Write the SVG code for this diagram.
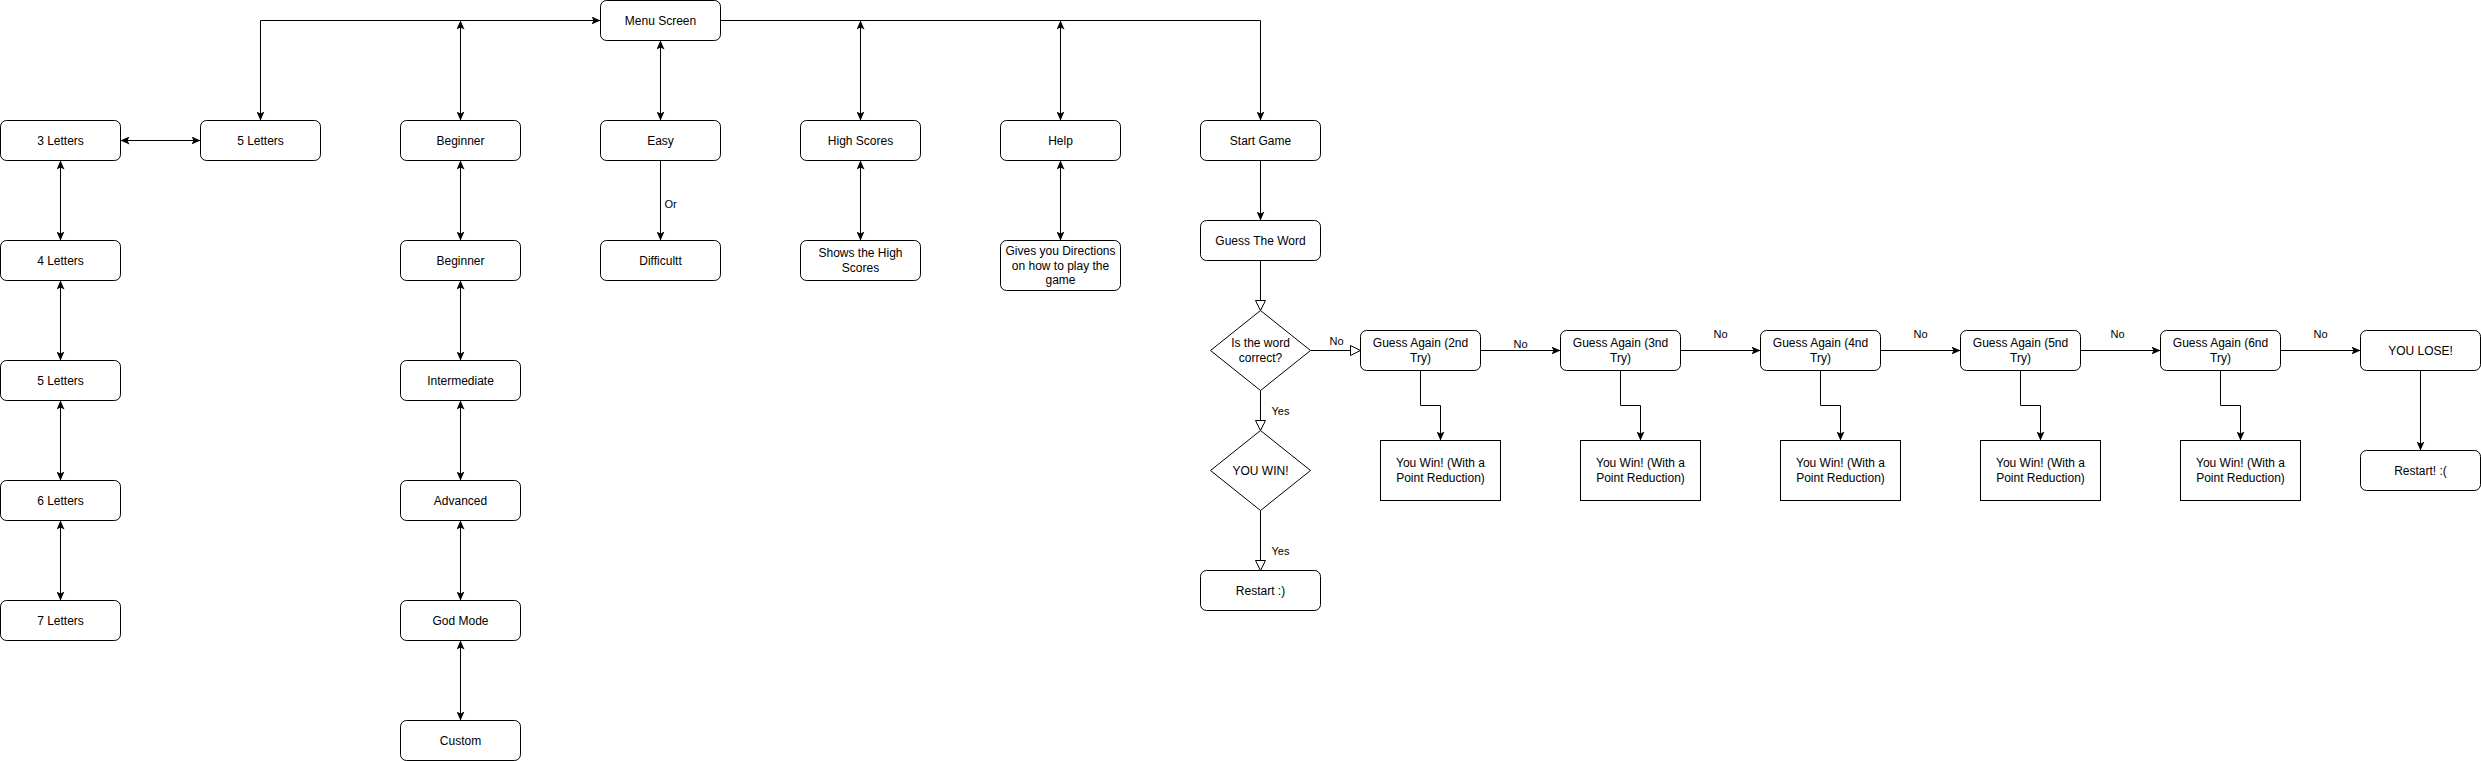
<svg xmlns="http://www.w3.org/2000/svg" width="2481" height="761" viewBox="0 0 2481 761">
<style>
.n{fill:#fff;stroke:#000;stroke-width:1}
.t{font-family:"Liberation Sans",Arial,sans-serif;font-size:12px;fill:#000;text-anchor:middle;dominant-baseline:central}
.l{font-family:"Liberation Sans",Arial,sans-serif;font-size:11px;fill:#000;text-anchor:middle;dominant-baseline:central}
.e{fill:none;stroke:#000;stroke-width:1}
.ee{marker-end:url(#a)}
.bb{marker-start:url(#a);marker-end:url(#a)}
.hh{marker-end:url(#h)}
</style>
<defs>
<marker id="a" viewBox="0 0 9 8" refX="9" refY="4" markerWidth="9" markerHeight="8" markerUnits="userSpaceOnUse" orient="auto-start-reverse"><path d="M0,0 L9,4 L0,8 L2,4 z" fill="#000"/></marker>
<marker id="h" viewBox="0 0 11 11" refX="10.5" refY="5.5" markerWidth="11" markerHeight="11" markerUnits="userSpaceOnUse" orient="auto"><path d="M0.5,0.5 L10.5,5.5 L0.5,10.5 z" fill="#fff" stroke="#000" stroke-width="1"/></marker>
</defs>
<rect width="2481" height="761" fill="#fff"/>
<g transform="translate(0.5,0.5)">
<g id="connectors">
<path class="e bb" d="M260,120 V20 H600"/>
<path class="e bb" d="M460,20 V120"/>
<path class="e bb" d="M660,40 V120"/>
<path class="e bb" d="M860,20 V120"/>
<path class="e bb" d="M1060,20 V120"/>
<path class="e ee" d="M720,20 H1260 V120"/>
<path class="e bb" d="M120,140 H200"/>
<path class="e bb" d="M60,160 V240"/>
<path class="e bb" d="M60,280 V360"/>
<path class="e bb" d="M60,400 V480"/>
<path class="e bb" d="M60,520 V600"/>
<path class="e bb" d="M460,160 V240"/>
<path class="e bb" d="M460,280 V360"/>
<path class="e bb" d="M460,400 V480"/>
<path class="e bb" d="M460,520 V600"/>
<path class="e bb" d="M460,640 V720"/>
<path class="e ee" d="M660,160 V240"/>
<text class="l" x="664" y="203" style="text-anchor:start">Or</text>
<path class="e bb" d="M860,160 V240"/>
<path class="e bb" d="M1060,160 V240"/>
<path class="e ee" d="M1260,160 V220"/>
<path class="e hh" d="M1260,260 V310"/>
<path class="e hh" d="M1310,350 H1360"/>
<text class="l" x="1336" y="340">No</text>
<path class="e hh" d="M1260,390 V430"/>
<text class="l" x="1280" y="410">Yes</text>
<path class="e hh" d="M1260,510 V570"/>
<text class="l" x="1280" y="550">Yes</text>
<path class="e ee" d="M1480,350 H1560"/>
<text class="l" x="1520" y="343">No</text>
<path class="e ee" d="M1680,350 H1760"/>
<text class="l" x="1720" y="333">No</text>
<path class="e ee" d="M1880,350 H1960"/>
<text class="l" x="1920" y="333">No</text>
<path class="e ee" d="M2080,350 H2160"/>
<text class="l" x="2117" y="333">No</text>
<path class="e ee" d="M2280,350 H2360"/>
<text class="l" x="2320" y="333">No</text>
<path class="e ee" d="M1420,370 V405 H1440 V440"/>
<path class="e ee" d="M1620,370 V405 H1640 V440"/>
<path class="e ee" d="M1820,370 V405 H1840 V440"/>
<path class="e ee" d="M2020,370 V405 H2040 V440"/>
<path class="e ee" d="M2220,370 V405 H2240 V440"/>
<path class="e ee" d="M2420,370 V450"/>
</g>
<g id="menu"><rect class="n" x="600" y="0" width="120" height="40" rx="6"/><text class="t" x="660" y="20">Menu Screen</text></g>
<g id="l3"><rect class="n" x="0" y="120" width="120" height="40" rx="6"/><text class="t" x="60" y="140">3 Letters</text></g>
<g id="l5top"><rect class="n" x="200" y="120" width="120" height="40" rx="6"/><text class="t" x="260" y="140">5 Letters</text></g>
<g id="beg1"><rect class="n" x="400" y="120" width="120" height="40" rx="6"/><text class="t" x="460" y="140">Beginner</text></g>
<g id="easy"><rect class="n" x="600" y="120" width="120" height="40" rx="6"/><text class="t" x="660" y="140">Easy</text></g>
<g id="hs"><rect class="n" x="800" y="120" width="120" height="40" rx="6"/><text class="t" x="860" y="140">High Scores</text></g>
<g id="help"><rect class="n" x="1000" y="120" width="120" height="40" rx="6"/><text class="t" x="1060" y="140">Help</text></g>
<g id="start"><rect class="n" x="1200" y="120" width="120" height="40" rx="6"/><text class="t" x="1260" y="140">Start Game</text></g>
<g id="l4"><rect class="n" x="0" y="240" width="120" height="40" rx="6"/><text class="t" x="60" y="260">4 Letters</text></g>
<g id="beg2"><rect class="n" x="400" y="240" width="120" height="40" rx="6"/><text class="t" x="460" y="260">Beginner</text></g>
<g id="diff"><rect class="n" x="600" y="240" width="120" height="40" rx="6"/><text class="t" x="660" y="260">Difficultt</text></g>
<g id="hsd"><rect class="n" x="800" y="240" width="120" height="40" rx="6"/><text class="t" x="860" y="252.8">Shows the High</text><text class="t" x="860" y="267.2">Scores</text></g>
<g id="helpd"><rect class="n" x="1000" y="240" width="120" height="50" rx="6"/><text class="t" x="1060" y="250.6">Gives you Directions</text><text class="t" x="1060" y="265">on how to play the</text><text class="t" x="1060" y="279.4">game</text></g>
<g id="guess"><rect class="n" x="1200" y="220" width="120" height="40" rx="6"/><text class="t" x="1260" y="240">Guess The Word</text></g>
<g id="l5"><rect class="n" x="0" y="360" width="120" height="40" rx="6"/><text class="t" x="60" y="380">5 Letters</text></g>
<g id="inter"><rect class="n" x="400" y="360" width="120" height="40" rx="6"/><text class="t" x="460" y="380">Intermediate</text></g>
<g id="l6"><rect class="n" x="0" y="480" width="120" height="40" rx="6"/><text class="t" x="60" y="500">6 Letters</text></g>
<g id="adv"><rect class="n" x="400" y="480" width="120" height="40" rx="6"/><text class="t" x="460" y="500">Advanced</text></g>
<g id="l7"><rect class="n" x="0" y="600" width="120" height="40" rx="6"/><text class="t" x="60" y="620">7 Letters</text></g>
<g id="god"><rect class="n" x="400" y="600" width="120" height="40" rx="6"/><text class="t" x="460" y="620">God Mode</text></g>
<g id="custom"><rect class="n" x="400" y="720" width="120" height="40" rx="6"/><text class="t" x="460" y="740">Custom</text></g>
<g id="decision"><path class="n" d="M1260,310 L1310,350 L1260,390 L1210,350 Z"/><text class="t" x="1260" y="342.8">Is the word</text><text class="t" x="1260" y="357.2">correct?</text></g>
<g id="youwin"><path class="n" d="M1260,430 L1310,470 L1260,510 L1210,470 Z"/><text class="t" x="1260" y="470">YOU WIN!</text></g>
<g id="restart"><rect class="n" x="1200" y="570" width="120" height="40" rx="6"/><text class="t" x="1260" y="590">Restart :)</text></g>
<g id="ga2"><rect class="n" x="1360" y="330" width="120" height="40" rx="6"/><text class="t" x="1420" y="342.8">Guess Again (2nd</text><text class="t" x="1420" y="357.2">Try)</text></g>
<g id="ga3"><rect class="n" x="1560" y="330" width="120" height="40" rx="6"/><text class="t" x="1620" y="342.8">Guess Again (3nd</text><text class="t" x="1620" y="357.2">Try)</text></g>
<g id="ga4"><rect class="n" x="1760" y="330" width="120" height="40" rx="6"/><text class="t" x="1820" y="342.8">Guess Again (4nd</text><text class="t" x="1820" y="357.2">Try)</text></g>
<g id="ga5"><rect class="n" x="1960" y="330" width="120" height="40" rx="6"/><text class="t" x="2020" y="342.8">Guess Again (5nd</text><text class="t" x="2020" y="357.2">Try)</text></g>
<g id="ga6"><rect class="n" x="2160" y="330" width="120" height="40" rx="6"/><text class="t" x="2220" y="342.8">Guess Again (6nd</text><text class="t" x="2220" y="357.2">Try)</text></g>
<g id="lose"><rect class="n" x="2360" y="330" width="120" height="40" rx="6"/><text class="t" x="2420" y="350">YOU LOSE!</text></g>
<g id="yw2"><rect class="n" x="1380" y="440" width="120" height="60"/><text class="t" x="1440" y="462.8">You Win! (With a</text><text class="t" x="1440" y="477.2">Point Reduction)</text></g>
<g id="yw3"><rect class="n" x="1580" y="440" width="120" height="60"/><text class="t" x="1640" y="462.8">You Win! (With a</text><text class="t" x="1640" y="477.2">Point Reduction)</text></g>
<g id="yw4"><rect class="n" x="1780" y="440" width="120" height="60"/><text class="t" x="1840" y="462.8">You Win! (With a</text><text class="t" x="1840" y="477.2">Point Reduction)</text></g>
<g id="yw5"><rect class="n" x="1980" y="440" width="120" height="60"/><text class="t" x="2040" y="462.8">You Win! (With a</text><text class="t" x="2040" y="477.2">Point Reduction)</text></g>
<g id="yw6"><rect class="n" x="2180" y="440" width="120" height="60"/><text class="t" x="2240" y="462.8">You Win! (With a</text><text class="t" x="2240" y="477.2">Point Reduction)</text></g>
<g id="restart2"><rect class="n" x="2360" y="450" width="120" height="40" rx="6"/><text class="t" x="2420" y="470">Restart! :(</text></g>
</g>
</svg>
